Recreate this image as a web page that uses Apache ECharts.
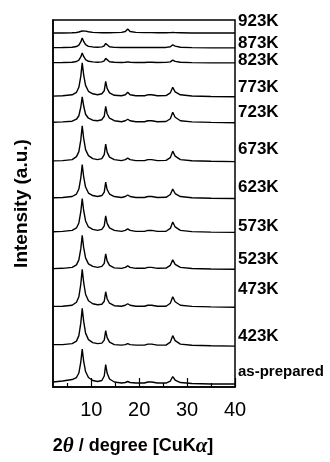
<!DOCTYPE html>
<html>
<head>
<meta charset="utf-8">
<script src="https://cdn.jsdelivr.net/npm/echarts@6/dist/echarts.min.js"></script>
<style>
  html, body { margin: 0; padding: 0; background: #fff; }
  #chart { width: 330px; height: 462px; }
</style>
</head>
<body>
<div id="chart"></div>
<script>
// 2theta sampling points shared by all patterns
const twoTheta = [2, 4, 6, 6.9, 7.4, 7.8, 8.1, 8.4, 8.8, 9.4, 10.3, 11.3, 12.2, 12.7, 13.0, 13.3, 13.8, 14.8,
  16.3, 17.1, 17.6, 18.1, 19.3, 21.1, 21.8, 22.2, 22.6, 23.8, 25.6, 26.5, 27.0, 27.5, 28.6, 31, 35, 40];

// names from bottom to top
const sampleNames = ['as-prepared', '423K', '473K', '523K', '573K', '623K', '673K', '723K', '773K', '823K', '873K', '923K'];

// vertical offset of each pattern (a.u.)
const offsets = [3, 41, 80, 118, 155, 189, 226, 265, 291, 325, 340, 355];

// intensities (a.u.) above each pattern's baseline
const asPrepared = [2, 3, 4.5, 6.5, 11, 22, 35, 23, 12.5, 6.5, 3.5, 2.5, 3.5, 8, 19.5, 11, 5, 2, 1, 1.5, 2.5, 1.5, 1, 1, 2, 3.5, 2, 1, 1, 3, 7.5, 4, 1.5, 0.5, 0, 0];
const k423 = [1.5, 1.5, 2.5, 5, 10.5, 23, 38, 25, 13, 6.5, 3.5, 2.5, 3, 6, 15.5, 8.5, 4, 1.5, 1, 1.5, 2.5, 1.5, 1, 1, 2, 3.5, 2, 1, 1, 4, 10.5, 5.5, 2, 0.8, 0.3, 0];
const k473 = [0.8, 1, 2, 5, 10.5, 23, 38, 25, 13, 6.5, 3.5, 2.5, 3, 6, 15.5, 8.5, 4, 1.5, 1, 2, 3.5, 2, 1, 1, 2, 3.5, 2, 1, 1, 4, 10.5, 5.5, 2, 0.8, 0.3, 0];
const k523 = [0.7, 1, 2, 4.5, 9.5, 20.5, 34, 22, 11.5, 5.5, 3, 2, 3, 6, 15.5, 8.5, 4, 1.5, 1, 2, 3.5, 2, 1, 1, 2, 3.5, 2, 1, 1.2, 4, 9.5, 5, 2, 0.8, 0.3, 0];
const k573 = [0.7, 1, 2, 4.5, 9.5, 20.5, 34, 22, 11.5, 5.5, 3, 2, 3, 6.5, 16.5, 9, 4.5, 2, 1, 2, 3.5, 2, 1, 1, 2, 3.5, 2, 1, 1.2, 4, 10.5, 5.5, 2, 0.8, 0.3, 0];
const k623 = [0.7, 1, 2, 4.5, 9.5, 20.5, 34, 22, 11.5, 5.5, 3, 2, 3, 6.5, 16.5, 9, 4.5, 2, 1, 2, 3.5, 2, 1, 1, 2, 3.5, 2, 1, 1.2, 4, 9.5, 5, 2, 0.8, 0.3, 0];
const k673 = [0.7, 1, 2, 5, 10, 21.5, 36, 23.5, 12, 6, 3, 2, 3, 7, 17.5, 9.5, 4.5, 2, 1, 2, 3.5, 2, 1, 1, 2, 3.5, 2, 1, 1.2, 4, 10.5, 5.5, 2, 0.8, 0.3, 0];
const k723 = [0.5, 0.8, 1.5, 3.5, 7, 15.5, 26, 17, 8.5, 4.5, 2.5, 2, 3, 6.5, 16.5, 9, 4.5, 2, 1, 2, 3.5, 2, 1, 1, 2, 3.5, 2, 1, 1.2, 4, 10.5, 5.5, 2, 0.8, 0.3, 0];
const k773 = [0.7, 1, 2, 4.5, 9.5, 20.5, 34, 22, 11.5, 5.5, 3, 2, 3, 6, 15.5, 8.5, 4, 1.5, 1, 2, 4.5, 2, 1, 1, 2, 3.5, 2, 1, 1.2, 4, 9.5, 5, 2, 0.8, 0.3, 0];
const k823 = [0.3, 0.4, 0.7, 1.4, 2.8, 6, 10, 6.5, 3.3, 1.6, 1, 0.7, 1, 2, 4.5, 2.5, 1.2, 0.6, 0.4, 0.6, 1, 0.6, 0.4, 0.4, 0.7, 1.2, 0.7, 0.4, 0.5, 1, 2.8, 1.5, 0.6, 0.3, 0, 0];
const k873 = [0.3, 0.4, 0.7, 1.4, 2.8, 6, 10, 6.5, 3.3, 1.6, 1, 0.7, 1, 2, 4.5, 2.5, 1.2, 0.6, 0.4, 0.4, 0.6, 0.4, 0.4, 0.4, 0.5, 0.7, 0.5, 0.4, 0.5, 1.2, 3.2, 1.8, 0.7, 0.3, 0, 0];
const k923 = [0, 0, 0.2, 0.5, 1, 1.5, 2, 2, 1.8, 1.2, 0.6, 0.3, 0.2, 0.2, 0.3, 0.3, 0.2, 0.3, 0.6, 1.5, 4, 1.5, 0.6, 0.3, 0.3, 0.4, 0.3, 0.2, 0.2, 0.3, 0.4, 0.3, 0.2, 0, 0, 0];

const patterns = [asPrepared, k423, k473, k523, k573, k623, k673, k723, k773, k823, k873, k923];

// x-axis ticks
const majorTicks = [10, 20, 30, 40];
const minorTicks = [5, 15, 25, 35];

// vertical nudge of the right-hand labels (px)
const labelDy = [-12, -10, -18, -10, -6, -11, -12, -10, -9, -3, -5, -12];

const chart = echarts.init(document.getElementById('chart'));

const series = patterns.map((vals, i) => ({
  name: sampleNames[i],
  type: 'line',
  data: twoTheta.map((x, j) => [x, offsets[i] + vals[j]]),
  showSymbol: false,
  silent: true,
  lineStyle: { color: '#000', width: 1.4 },
  endLabel: {
    show: true,
    formatter: '{a}',
    color: '#000',
    fontFamily: 'Liberation Sans',
    fontWeight: 'bold',
    fontSize: i === 0 ? 15 : 17,
    distance: 3,
    offset: [0, labelDy[i]]
  }
}));

chart.setOption({
  animation: false,
  backgroundColor: '#fff',
  grid: {
    left: 53, right: 95, top: 20, bottom: 74,
    show: true, borderColor: '#000', borderWidth: 1.5
  },
  xAxis: [{
    type: 'value', min: 2, max: 40,
    splitLine: { show: false },
    axisLine: { show: true, lineStyle: { color: '#000', width: 1.5 } },
    axisTick: { show: true, inside: true, length: 9, customValues: majorTicks, lineStyle: { color: '#000', width: 1.2 } },
    axisLabel: {
      customValues: majorTicks, color: '#000', fontSize: 20, margin: 13,
      fontFamily: 'Liberation Sans'
    },
    name: '{n|2}{g|θ}{n| / degree [CuK}{g|α}{n|]}',
    nameLocation: 'middle',
    nameGap: 49,
    nameTextStyle: {
      padding: [0, 22, 0, 0],
      rich: {
        n: { fontFamily: 'Liberation Sans', fontWeight: 'bold', fontSize: 18, color: '#000' },
        g: { fontFamily: 'Liberation Serif', fontStyle: 'italic', fontWeight: 'bold', fontSize: 21, color: '#000' }
      }
    }
  }, {
    type: 'value', min: 2, max: 40, position: 'bottom',
    splitLine: { show: false },
    axisLine: { show: false },
    axisTick: { show: true, inside: true, length: 4, customValues: minorTicks, lineStyle: { color: '#000', width: 1.2 } },
    axisLabel: { show: false }
  }],
  yAxis: {
    type: 'value', min: 0, max: 368,
    splitLine: { show: false },
    axisTick: { show: false },
    axisLabel: { show: false },
    axisLine: { show: true, lineStyle: { color: '#000', width: 1.5 } },
    name: 'Intensity (a.u.)',
    nameLocation: 'middle',
    nameGap: 22,
    nameTextStyle: { color: '#000', fontSize: 19, fontWeight: 'bold', fontFamily: 'Liberation Sans' }
  },
  series: series
});
</script>
</body>
</html>
